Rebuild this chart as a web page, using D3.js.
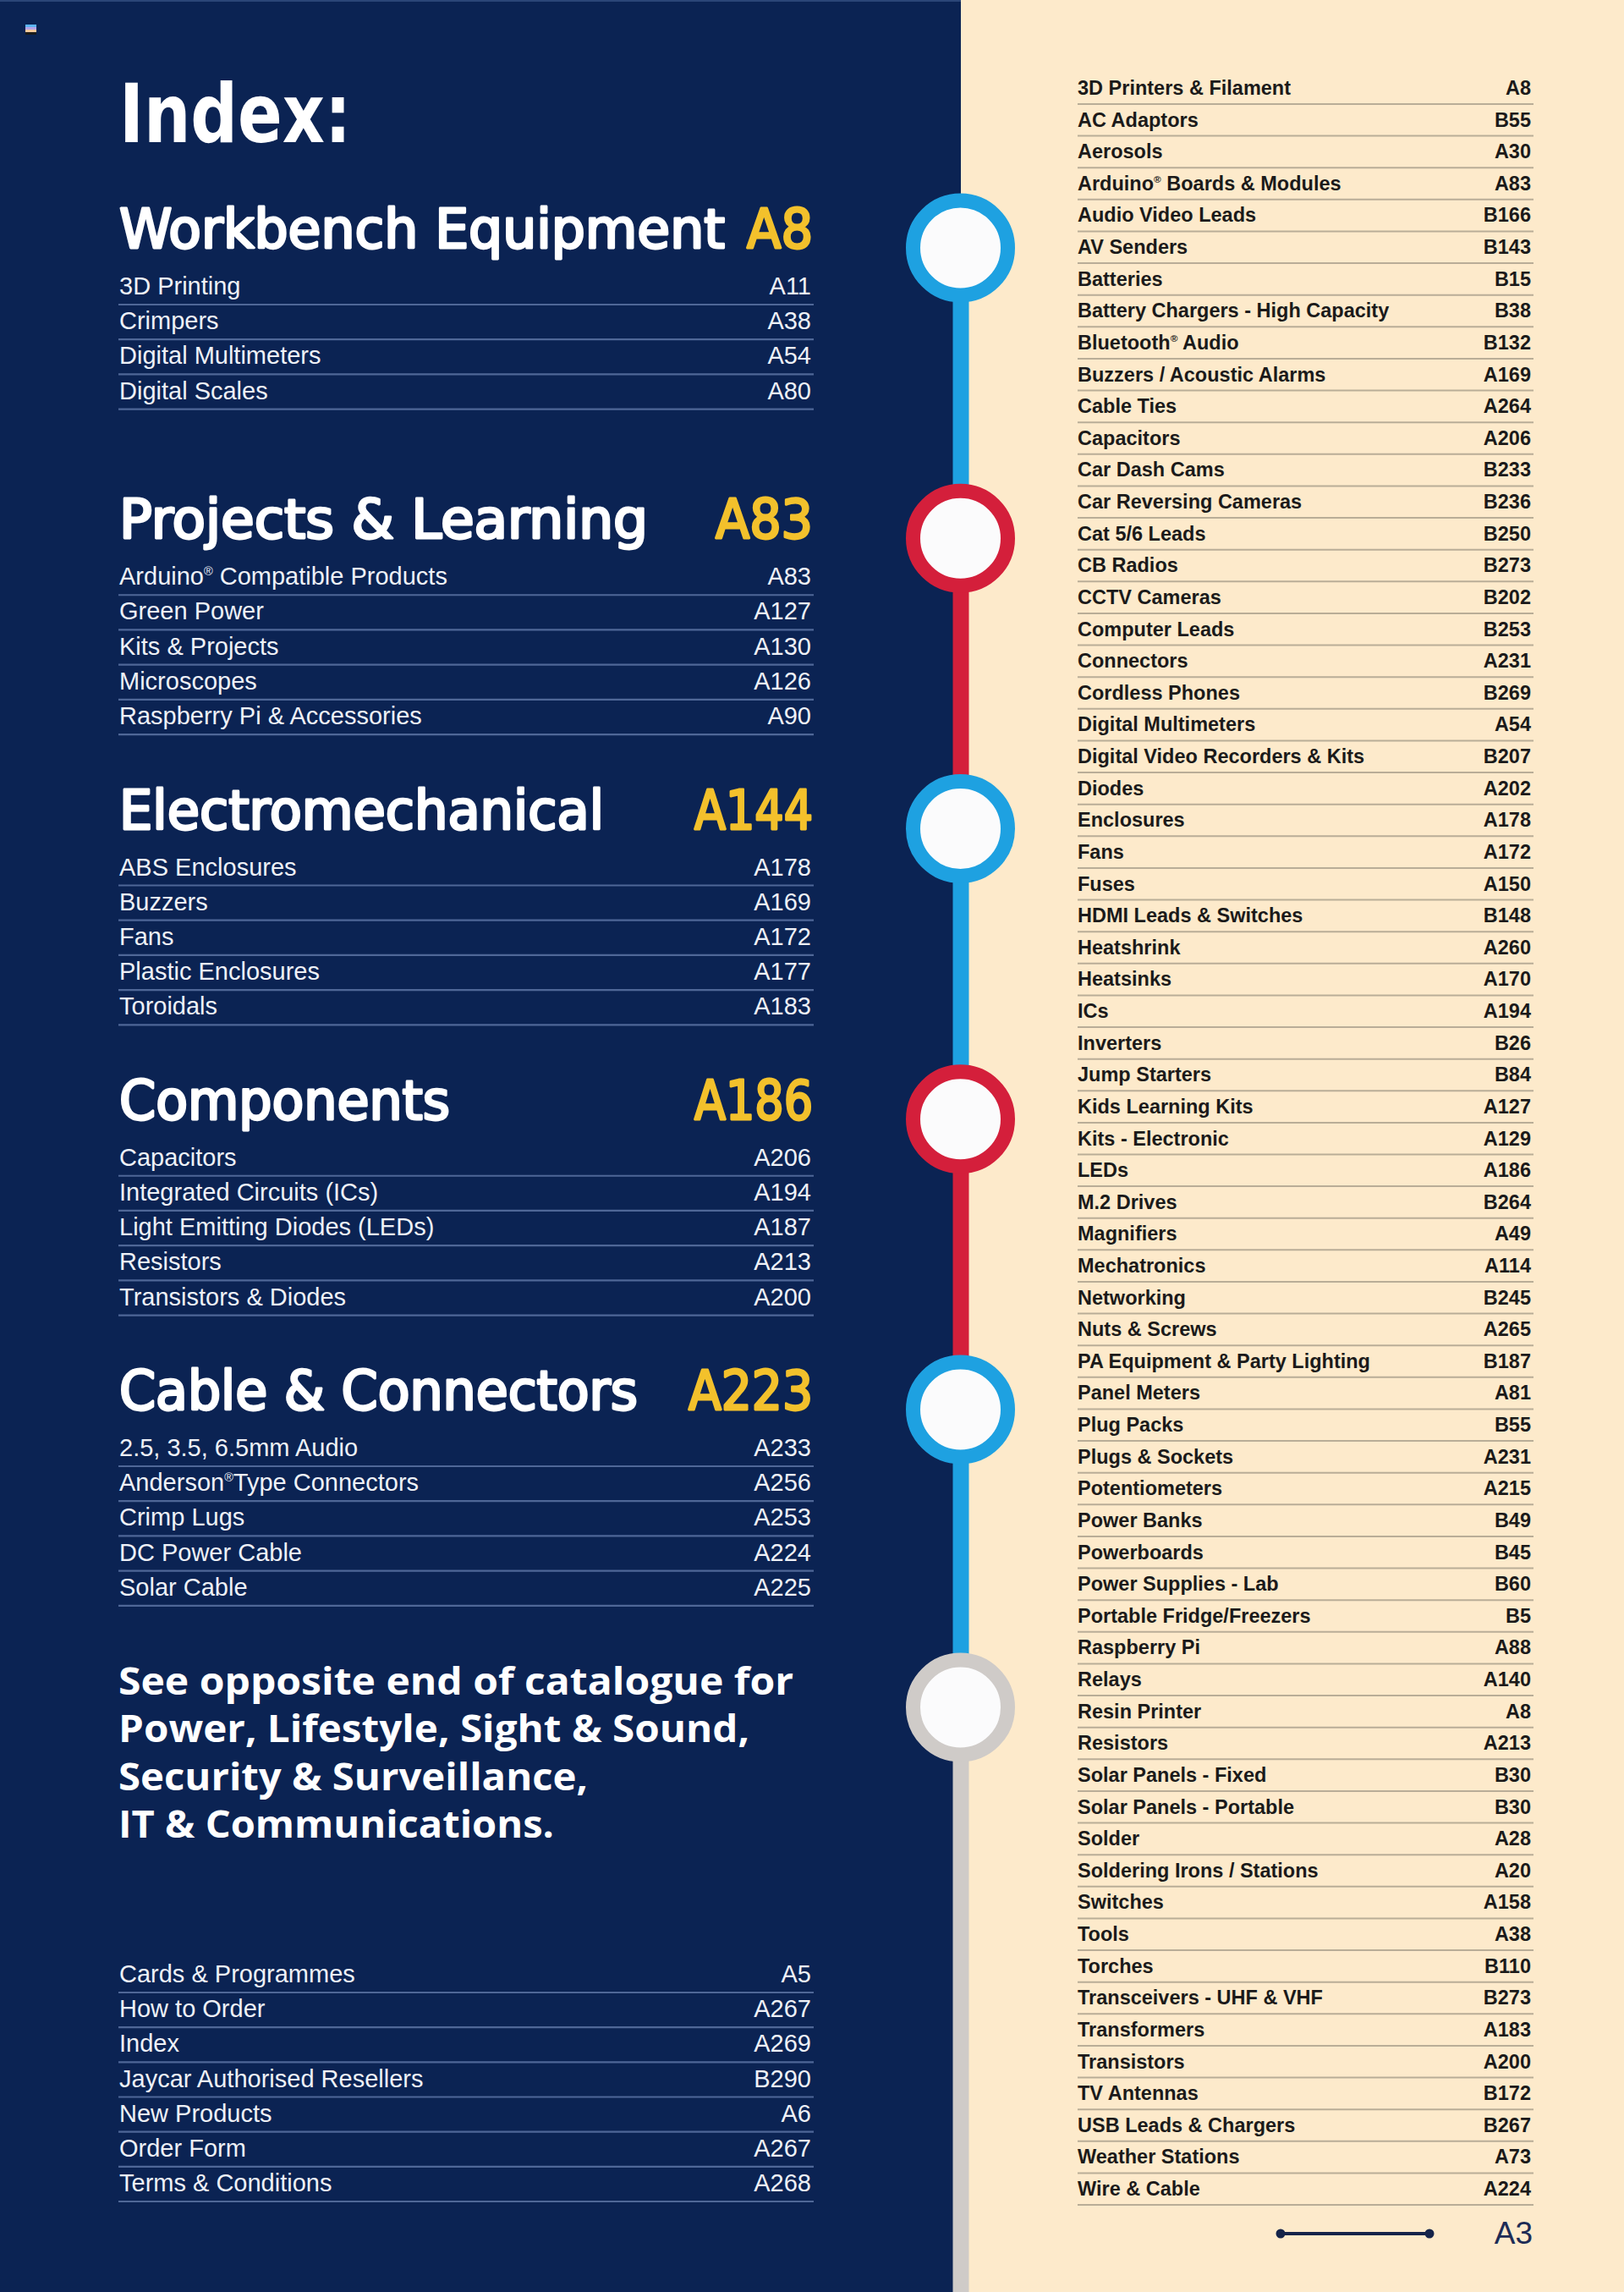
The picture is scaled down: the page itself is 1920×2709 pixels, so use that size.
<!DOCTYPE html>
<html>
<head>
<meta charset="utf-8">
<script src="https://cdn.jsdelivr.net/npm/d3@7"></script>
<style>
  html, body { margin: 0; padding: 0; background: #fdeacb; }
  svg { display: block; }
</style>
</head>
<body>
<svg id="page"></svg>
<script>
// ---------------- DATA ----------------
const pageTitle = "Index:";
const sectionTitles = ["Workbench Equipment", "Projects & Learning", "Electromechanical", "Components", "Cable & Connectors"];
const sectionPages = ["A8", "A83", "A144", "A186", "A223"];
const workbenchItems = [["3D Printing", "A11"], ["Crimpers", "A38"], ["Digital Multimeters", "A54"], ["Digital Scales", "A80"]];
const projectsItems = [["Arduino® Compatible Products", "A83"], ["Green Power", "A127"], ["Kits & Projects", "A130"], ["Microscopes", "A126"], ["Raspberry Pi & Accessories", "A90"]];
const electroItems = [["ABS Enclosures", "A178"], ["Buzzers", "A169"], ["Fans", "A172"], ["Plastic Enclosures", "A177"], ["Toroidals", "A183"]];
const componentItems = [["Capacitors", "A206"], ["Integrated Circuits (ICs)", "A194"], ["Light Emitting Diodes (LEDs)", "A187"], ["Resistors", "A213"], ["Transistors & Diodes", "A200"]];
const cableItems = [["2.5, 3.5, 6.5mm Audio", "A233"], ["Anderson®Type Connectors", "A256"], ["Crimp Lugs", "A253"], ["DC Power Cable", "A224"], ["Solar Cable", "A225"]];
const seeOppositeLines = ["See opposite end of catalogue for", "Power, Lifestyle, Sight & Sound,", "Security & Surveillance,", "IT & Communications."];
const generalItems = [["Cards & Programmes", "A5"], ["How to Order", "A267"], ["Index", "A269"], ["Jaycar Authorised Resellers", "B290"], ["New Products", "A6"], ["Order Form", "A267"], ["Terms & Conditions", "A268"]];
const ringColors = ["blue", "red", "blue", "red", "blue", "grey"];
const indexNames = ["3D Printers & Filament", "AC Adaptors", "Aerosols", "Arduino® Boards & Modules", "Audio Video Leads", "AV Senders", "Batteries", "Battery Chargers - High Capacity", "Bluetooth® Audio", "Buzzers / Acoustic Alarms", "Cable Ties", "Capacitors", "Car Dash Cams", "Car Reversing Cameras", "Cat 5/6 Leads", "CB Radios", "CCTV Cameras", "Computer Leads", "Connectors", "Cordless Phones", "Digital Multimeters", "Digital Video Recorders & Kits", "Diodes", "Enclosures", "Fans", "Fuses", "HDMI Leads & Switches", "Heatshrink", "Heatsinks", "ICs", "Inverters", "Jump Starters", "Kids Learning Kits", "Kits - Electronic", "LEDs", "M.2 Drives", "Magnifiers", "Mechatronics", "Networking", "Nuts & Screws", "PA Equipment & Party Lighting", "Panel Meters", "Plug Packs", "Plugs & Sockets", "Potentiometers", "Power Banks", "Powerboards", "Power Supplies - Lab", "Portable Fridge/Freezers", "Raspberry Pi", "Relays", "Resin Printer", "Resistors", "Solar Panels - Fixed", "Solar Panels - Portable", "Solder", "Soldering Irons / Stations", "Switches", "Tools", "Torches", "Transceivers - UHF & VHF", "Transformers", "Transistors", "TV Antennas", "USB Leads & Chargers", "Weather Stations", "Wire & Cable"];
const indexPages = ["A8", "B55", "A30", "A83", "B166", "B143", "B15", "B38", "B132", "A169", "A264", "A206", "B233", "B236", "B250", "B273", "B202", "B253", "A231", "B269", "A54", "B207", "A202", "A178", "A172", "A150", "B148", "A260", "A170", "A194", "B26", "B84", "A127", "A129", "A186", "B264", "A49", "A114", "B245", "A265", "B187", "A81", "B55", "A231", "A215", "B49", "B45", "B60", "B5", "A88", "A140", "A8", "A213", "B30", "B30", "A28", "A20", "A158", "A38", "B110", "B273", "A183", "A200", "B172", "B267", "A73", "A224"];
const folioLabel = "A3";

// ---------------- STYLE / LAYOUT ----------------
const W = 1920, H = 2709;
const navy = "#0b2353", cream = "#fdeacb";
const ringPalette = { blue: "#1ea1e1", red: "#d41f3b", grey: "#cfcbc8" };
const yellow = "#f3c12c";
const splitX = 1136;
const leftX = 141, leftRight = 961;
const rightX = 1274, rightRight = 1810;

// measured widths of the display type (layout)
const headingWidths = [716, 625, 573, 391, 613];
const pageNumWidths = [78, 115, 140, 140, 147];
const paraWidths = [798, 746, 555, 515];

const svg = d3.select("#page").attr("width", W).attr("height", H);

// backgrounds
svg.append("rect").attr("x", 0).attr("y", 0).attr("width", splitX).attr("height", H).attr("fill", navy);
svg.append("rect").attr("x", splitX).attr("y", 0).attr("width", W - splitX).attr("height", H).attr("fill", cream);
svg.append("rect").attr("x", 0).attr("y", 0).attr("width", splitX).attr("height", 2).attr("fill", "#2b4677");

// tiny flag icon
const flagColors = ["#5cb4f4", "#b7a5e8", "#f6c99c", "#1b1b1b"];
const flagY = d3.scaleBand().domain(d3.range(flagColors.length)).range([29, 41]);
svg.append("g").selectAll("rect").data(flagColors).join("rect")
  .attr("x", 30).attr("width", 13)
  .attr("y", (d, i) => flagY(i)).attr("height", flagY.bandwidth())
  .attr("fill", d => d);

// helper: text with ® as superscript
function writeLabel(sel, str, size) {
  const parts = str.split("®");
  const sup = size * 0.5, shift = size * 0.38;
  parts.forEach((p, i) => {
    if (i > 0) {
      sel.append("tspan").attr("font-size", sup).attr("dy", -shift).text("®");
      sel.append("tspan").attr("dy", shift).text(p);
    } else {
      sel.append("tspan").text(p);
    }
  });
}

// ---------------- TIMELINE (rings + rail) ----------------
const headingY = d3.scaleLinear().domain([0, 4]).range([293, 1666]);
const ringY = d3.range(ringColors.length).map(i => i < 5 ? headingY(i) : 2018);
const rail = svg.append("g");
ringColors.forEach((c, i) => {
  const y0 = ringY[i], y1 = i + 1 < ringY.length ? ringY[i + 1] : H;
  rail.append("rect").attr("x", splitX - 9.5).attr("width", 19)
    .attr("y", y0).attr("height", y1 - y0).attr("fill", ringPalette[c]);
});
rail.selectAll("circle").data(ringColors).join("circle")
  .attr("cx", splitX - 0.5).attr("cy", (d, i) => ringY[i]).attr("r", 56)
  .attr("fill", "#fbfbfc").attr("stroke", d => ringPalette[d]).attr("stroke-width", 17);

// ---------------- LEFT COLUMN ----------------
svg.append("text").attr("x", leftX).attr("y", 168)
  .attr("font-family", "'DejaVu Sans Condensed', 'DejaVu Sans', sans-serif").attr("font-weight", "bold")
  .attr("font-size", 97).attr("fill", "#ffffff")
  .attr("textLength", 274).attr("lengthAdjust", "spacingAndGlyphs")
  .text(pageTitle);

const sectionItems = [workbenchItems, projectsItems, electroItems, componentItems, cableItems];
const rowY = d3.scaleLinear().domain([0, 1]).range([0, 41.2]);
const itemFont = "'Liberation Sans', Arial, sans-serif";
const itemSize = 29;

sectionTitles.forEach((title, s) => {
  const g = svg.append("g");
  const hy = headingY(s);
  g.append("text").attr("x", leftX).attr("y", hy)
    .attr("font-family", "'DejaVu Sans Condensed', 'DejaVu Sans', sans-serif")
    .attr("font-size", 64).attr("fill", "#ffffff")
    .attr("stroke", "#ffffff").attr("stroke-width", 2.8).attr("stroke-linejoin", "round")
    .attr("textLength", headingWidths[s]).attr("lengthAdjust", "spacingAndGlyphs")
    .text(title);
  g.append("text").attr("x", leftRight).attr("y", hy).attr("text-anchor", "end")
    .attr("font-family", "'DejaVu Sans Condensed', 'DejaVu Sans', sans-serif")
    .attr("font-size", 64).attr("fill", yellow)
    .attr("stroke", yellow).attr("stroke-width", 2.8).attr("stroke-linejoin", "round")
    .attr("textLength", pageNumWidths[s]).attr("lengthAdjust", "spacingAndGlyphs")
    .text(sectionPages[s]);
  const items = sectionItems[s];
  items.forEach((it, i) => {
    const by = hy + 55 + rowY(i);
    const t = g.append("text").attr("x", leftX).attr("y", by)
      .attr("font-family", itemFont).attr("font-size", itemSize).attr("fill", "#eef1f7");
    writeLabel(t, it[0], itemSize);
    g.append("text").attr("x", leftRight - 2).attr("y", by).attr("text-anchor", "end")
      .attr("font-family", itemFont).attr("font-size", itemSize).attr("fill", "#eef1f7").text(it[1]);
    g.append("line").attr("x1", leftX - 1).attr("x2", leftRight + 1)
      .attr("y1", by + 12).attr("y2", by + 12)
      .attr("stroke", "#4f6797").attr("stroke-width", 2.2);
  });
});

// "See opposite end" paragraph
const paraY = d3.scaleLinear().domain([0, 3]).range([2003, 2172]);
svg.append("g").selectAll("text").data(seeOppositeLines).join("text")
  .attr("x", leftX - 1).attr("y", (d, i) => paraY(i))
  .attr("font-family", "'Open Sans', Lato, sans-serif").attr("font-weight", "bold")
  .attr("font-size", 44).attr("fill", "#ffffff")
  .attr("textLength", (d, i) => paraWidths[i]).attr("lengthAdjust", "spacingAndGlyphs")
  .text(d => d);

// general list
const generalY = d3.scaleLinear().domain([0, generalItems.length - 1]).range([2343, 2590]);
const gen = svg.append("g");
generalItems.forEach((it, i) => {
  const by = generalY(i);
  gen.append("text").attr("x", leftX).attr("y", by)
    .attr("font-family", itemFont).attr("font-size", itemSize).attr("fill", "#eef1f7").text(it[0]);
  gen.append("text").attr("x", leftRight - 2).attr("y", by).attr("text-anchor", "end")
    .attr("font-family", itemFont).attr("font-size", itemSize).attr("fill", "#eef1f7").text(it[1]);
  gen.append("line").attr("x1", leftX - 1).attr("x2", leftRight + 1)
    .attr("y1", by + 12).attr("y2", by + 12)
    .attr("stroke", "#4f6797").attr("stroke-width", 2.2);
});

// ---------------- RIGHT COLUMN ----------------
const yRight = d3.scaleLinear().domain([0, indexNames.length - 1]).range([112, 2595]);
const rightSize = 23.5;
const rg = svg.append("g");
indexNames.forEach((name, i) => {
  const by = yRight(i);
  const t = rg.append("text").attr("x", rightX).attr("y", by)
    .attr("font-family", itemFont).attr("font-weight", "bold")
    .attr("font-size", rightSize).attr("fill", "#1b1a1a");
  writeLabel(t, name, rightSize);
  rg.append("text").attr("x", rightRight).attr("y", by).attr("text-anchor", "end")
    .attr("font-family", itemFont).attr("font-weight", "bold")
    .attr("font-size", rightSize).attr("fill", "#1b1a1a").text(indexPages[i]);
  rg.append("line").attr("x1", rightX).attr("x2", rightRight + 3)
    .attr("y1", by + 11).attr("y2", by + 11)
    .attr("stroke", "#b9ad97").attr("stroke-width", 2);
});

// ---------------- FOLIO ----------------
const folio = svg.append("g");
const folioX = d3.scaleLinear().domain([0, 1]).range([1514, 1690]);
folio.append("line").attr("x1", folioX(0)).attr("x2", folioX(1)).attr("y1", 2640).attr("y2", 2640)
  .attr("stroke", "#15244a").attr("stroke-width", 4);
folio.selectAll("circle").data([0, 1]).join("circle")
  .attr("cx", d => folioX(d)).attr("cy", 2640).attr("r", 5.5).attr("fill", "#15244a");
folio.append("text").attr("x", 1812).attr("y", 2652).attr("text-anchor", "end")
  .attr("font-family", itemFont).attr("font-size", 37).attr("fill", "#1d2c56").text(folioLabel);
</script>
</body>
</html>
